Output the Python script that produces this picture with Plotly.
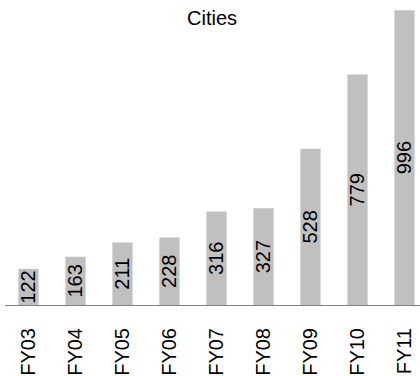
import plotly.graph_objects as go

# Number of cities per fiscal year
years = ["FY03", "FY04", "FY05", "FY06", "FY07", "FY08", "FY09", "FY10", "FY11"]
cities = [122, 163, 211, 228, 316, 327, 528, 779, 996]

font_family = "Liberation Sans, Arial, sans-serif"

fig = go.Figure(
    go.Bar(
        x=years,
        y=cities,
        width=0.43,
        marker=dict(color="#c0c0c0", line=dict(width=0)),
        text=[str(v) for v in cities],
        textposition="inside",
        insidetextanchor="middle",
        constraintext="none",
        textangle=-90,
        textfont=dict(family=font_family, size=20, color="#000000"),
        cliponaxis=False,
    )
)

fig.update_layout(
    width=420,
    height=376,
    margin=dict(l=5, r=0, t=9, b=68),
    paper_bgcolor="#ffffff",
    plot_bgcolor="#ffffff",
    showlegend=False,
    font=dict(family=font_family, color="#000000"),
    title=dict(
        text="Cities",
        x=0.505,
        xref="container",
        y=1 - 18 / 376,
        yref="container",
        xanchor="center",
        yanchor="middle",
        font=dict(family=font_family, size=20, color="#000000"),
    ),
    xaxis=dict(
        type="category",
        range=[-0.5, 8.33],
        showline=True,
        linecolor="#808080",
        linewidth=1,
        showgrid=False,
        zeroline=False,
        ticks="",
        tickangle=-90,
        ticklabelstandoff=14,
        tickfont=dict(family=font_family, size=20, color="#000000"),
    ),
    yaxis=dict(
        range=[0, 1000],
        visible=False,
        showgrid=False,
        zeroline=False,
    ),
)

fig.write_html("out.html")
